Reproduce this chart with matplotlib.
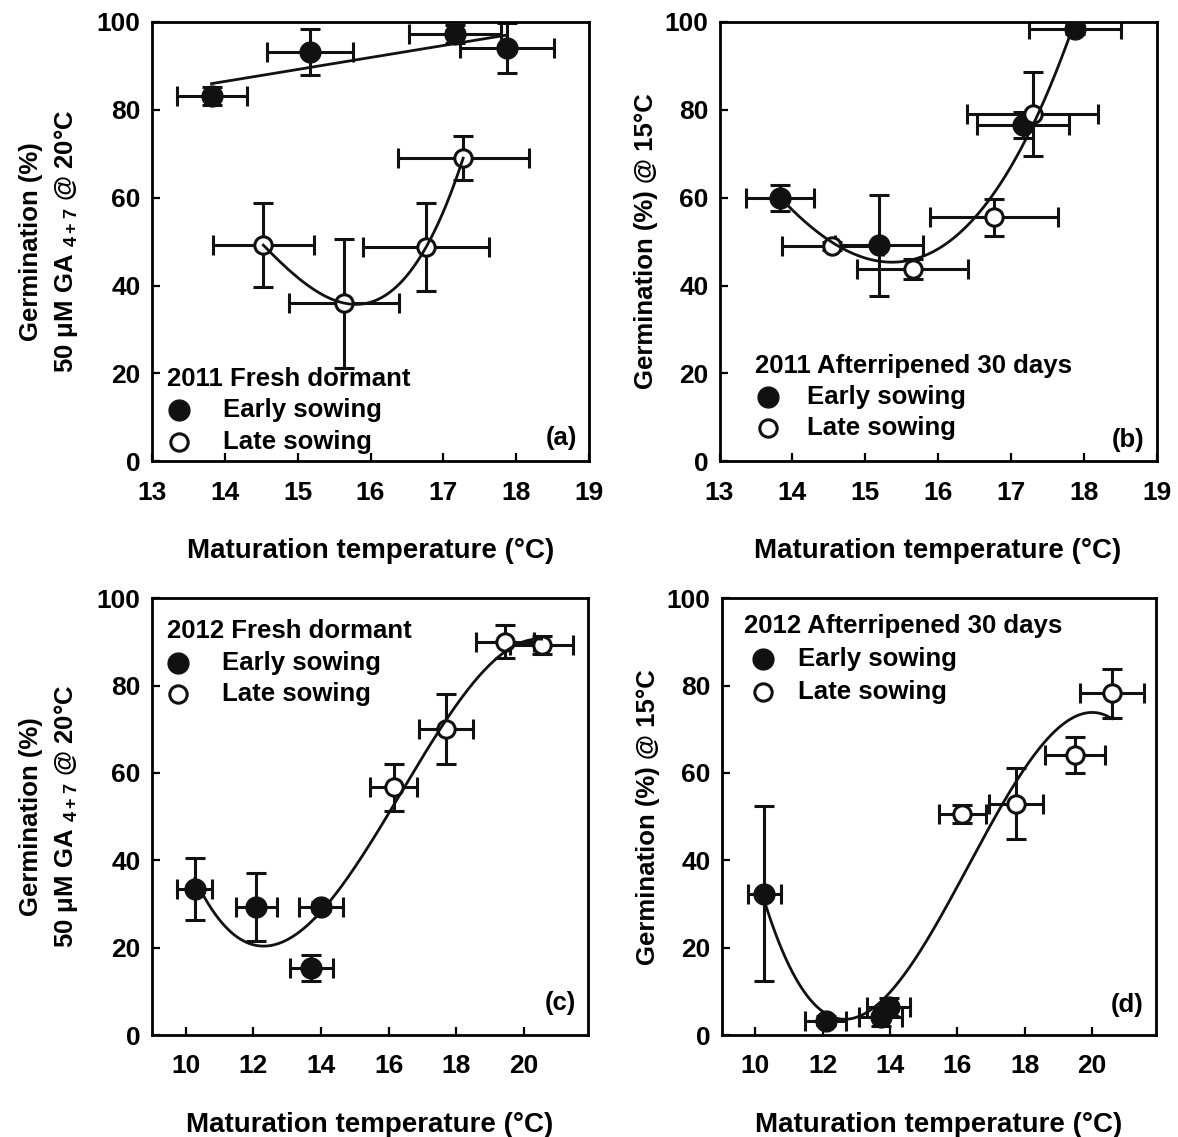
import numpy as np
import matplotlib
matplotlib.use("Agg")
import matplotlib.pyplot as plt

plt.rcParams["font.family"] = ["Liberation Sans", "DejaVu Sans"]
plt.rcParams["font.weight"] = "bold"
plt.rcParams["axes.labelweight"] = "bold"
plt.rcParams["mathtext.default"] = "regular"
plt.rcParams["axes.linewidth"] = 2.0

# (a) 2011 fresh dormant, GA4+7 @ 20 C
a_early_x = [13.82, 15.17, 17.16, 17.87]
a_early_y = [83.2, 93.2, 97.3, 94.0]
a_early_xerr = [0.48, 0.59, 0.63, 0.64]
a_early_yerr = [2.0, 5.3, 2.0, 5.7]
a_late_x = [14.53, 15.64, 16.76, 17.27]
a_late_y = [49.2, 36.0, 48.7, 69.0]
a_late_xerr = [0.69, 0.755, 0.87, 0.90]
a_late_yerr = [9.5, 14.7, 10.0, 5.0]

# (b) 2011 afterripened 30 days, 15 C
b_early_x = [13.83, 15.19, 17.17, 17.88]
b_early_y = [59.9, 49.2, 76.5, 98.3]
b_early_xerr = [0.47, 0.60, 0.63, 0.63]
b_early_yerr = [3.0, 11.5, 3.0, 1.0]
b_late_x = [14.55, 15.65, 16.77, 17.30]
b_late_y = [49.0, 43.7, 55.5, 79.1]
b_late_xerr = [0.69, 0.76, 0.875, 0.90]
b_late_yerr = [1.0, 2.3, 4.2, 9.5]

# (c) 2012 fresh dormant, GA4+7 @ 20 C
c_early_x = [10.27, 12.09, 13.99, 13.72]
c_early_y = [33.4, 29.4, 29.4, 15.3]
c_early_xerr = [0.51, 0.60, 0.65, 0.64]
c_early_yerr = [7.1, 7.8, 1.0, 3.0]
c_late_x = [16.15, 17.69, 19.44, 20.52]
c_late_y = [56.7, 70.0, 90.1, 89.3]
c_late_xerr = [0.69, 0.79, 0.86, 0.94]
c_late_yerr = [5.4, 8.0, 3.8, 2.0]

# (d) 2012 afterripened 30 days, 15 C
d_early_x = [10.27, 12.09, 13.72, 13.96]
d_early_y = [32.4, 3.3, 4.1, 6.4]
d_early_xerr = [0.49, 0.61, 0.64, 0.64]
d_early_yerr = [20.0, 1.0, 2.0, 2.0]
d_late_x = [16.15, 17.74, 19.49, 20.59]
d_late_y = [50.6, 53.0, 64.1, 78.2]
d_late_xerr = [0.69, 0.79, 0.89, 0.94]
d_late_yerr = [2.0, 8.2, 4.2, 5.5]

legend_titles = ["2011 Fresh dormant", "2011 Afterripened 30 days",
                 "2012 Fresh dormant", "2012 Afterripened 30 days"]
panel_tags = ["(a)", "(b)", "(c)", "(d)"]
ylabel_ga = "Germination (%)\n50 \u03bcM GA $_{4+7}$ @ 20\u00b0C"
ylabel_15 = "Germination (%) @ 15\u00b0C"
xlabel = "Maturation temperature (\u00b0C)"

FS = 18.5
ERR_KW = dict(fmt="none", ecolor="#111111", elinewidth=2.2, capsize=7, capthick=2.2, zorder=2)


def draw_points(ax, x, y, xerr, yerr, filled):
    ax.errorbar(x, y, xerr=xerr, yerr=yerr, **ERR_KW)
    if filled:
        ax.plot(x, y, "o", ms=15, mfc="#111111", mec="#111111", mew=1, ls="none", zorder=3)
    else:
        ax.plot(x, y, "o", ms=12.5, mfc="white", mec="#111111", mew=2.2, ls="none", zorder=3)


def draw_fit(ax, x, y, deg):
    x = np.asarray(x)
    coef = np.polyfit(x, np.asarray(y), deg)
    xs = np.linspace(x.min(), x.max(), 200)
    ax.plot(xs, np.polyval(coef, xs), color="#111111", lw=2.0, zorder=4)


def style_axes(ax, xticks, xlim, ylabel, labelpad):
    ax.set_xlim(*xlim)
    ax.set_ylim(0, 100)
    ax.set_xticks(xticks)
    ax.set_yticks(range(0, 101, 20))
    ax.tick_params(direction="in", length=6, width=1.6, labelsize=19, top=False, right=False)
    ax.tick_params(axis="x", pad=14)
    ax.tick_params(axis="y", pad=8)
    for lab in ax.get_xticklabels() + ax.get_yticklabels():
        lab.set_fontweight("bold")
    ax.set_xlabel(xlabel, fontsize=20, fontweight="bold", labelpad=24)
    ax.set_ylabel(ylabel, fontsize=FS, fontweight="bold", labelpad=labelpad,
                  linespacing=1.45)


def draw_key(ax, title, tag, tx, ty, mx, txt_x, y1, y2, tagy):
    ax.text(tx, ty, title, transform=ax.transAxes, fontsize=FS, fontweight="bold",
            ha="left", va="center")
    ax.plot([mx], [y1], "o", ms=15, mfc="#111111", mec="#111111", transform=ax.transAxes,
            clip_on=False)
    ax.plot([mx], [y2], "o", ms=12.5, mfc="white", mec="#111111", mew=2.2,
            transform=ax.transAxes, clip_on=False)
    ax.text(txt_x, y1, "Early sowing", transform=ax.transAxes, fontsize=FS,
            fontweight="bold", ha="left", va="center")
    ax.text(txt_x, y2, "Late sowing", transform=ax.transAxes, fontsize=FS,
            fontweight="bold", ha="left", va="center")
    ax.text(0.972, tagy, tag, transform=ax.transAxes, fontsize=FS, fontweight="bold",
            ha="right", va="center")


fig = plt.figure(figsize=(11.78, 11.37), dpi=100)
ax_a = fig.add_axes([0.1288, 0.5943, 0.3715, 0.3864])
ax_b = fig.add_axes([0.6108, 0.5943, 0.3710, 0.3864])
ax_c = fig.add_axes([0.1288, 0.0897, 0.3706, 0.3841])
ax_d = fig.add_axes([0.6126, 0.0897, 0.3687, 0.3841])

# (a)
draw_points(ax_a, a_early_x, a_early_y, a_early_xerr, a_early_yerr, True)
draw_points(ax_a, a_late_x, a_late_y, a_late_xerr, a_late_yerr, False)
draw_fit(ax_a, a_early_x, a_early_y, 1)
draw_fit(ax_a, a_late_x, a_late_y, 3)
style_axes(ax_a, range(13, 20), (13, 19), ylabel_ga, 12)
draw_key(ax_a, legend_titles[0], panel_tags[0], 0.034, 0.187, 0.062, 0.162, 0.117, 0.045, 0.052)

# (b)
draw_points(ax_b, b_early_x, b_early_y, b_early_xerr, b_early_yerr, True)
draw_points(ax_b, b_late_x, b_late_y, b_late_xerr, b_late_yerr, False)
draw_fit(ax_b, b_early_x + b_late_x, b_early_y + b_late_y, 3)
style_axes(ax_b, range(13, 20), (13, 19), ylabel_15, 5)
draw_key(ax_b, legend_titles[1], panel_tags[1], 0.082, 0.217, 0.112, 0.20, 0.146, 0.075, 0.048)

# (c)
draw_points(ax_c, c_early_x, c_early_y, c_early_xerr, c_early_yerr, True)
draw_points(ax_c, c_late_x, c_late_y, c_late_xerr, c_late_yerr, False)
draw_fit(ax_c, c_early_x + c_late_x, c_early_y + c_late_y, 3)
style_axes(ax_c, range(10, 21, 2), (9, 21.9), ylabel_ga, 12)
draw_key(ax_c, legend_titles[2], panel_tags[2], 0.035, 0.926, 0.061, 0.16, 0.8525, 0.781, 0.0725)

# (d)
draw_points(ax_d, d_early_x, d_early_y, d_early_xerr, d_early_yerr, True)
draw_points(ax_d, d_late_x, d_late_y, d_late_xerr, d_late_yerr, False)
draw_fit(ax_d, d_early_x + d_late_x, d_early_y + d_late_y, 3)
style_axes(ax_d, range(10, 21, 2), (9, 21.9), ylabel_15, 5)
draw_key(ax_d, legend_titles[3], panel_tags[3], 0.052, 0.936, 0.095, 0.176, 0.860, 0.786, 0.068)

fig.savefig("out.png", dpi=100)
